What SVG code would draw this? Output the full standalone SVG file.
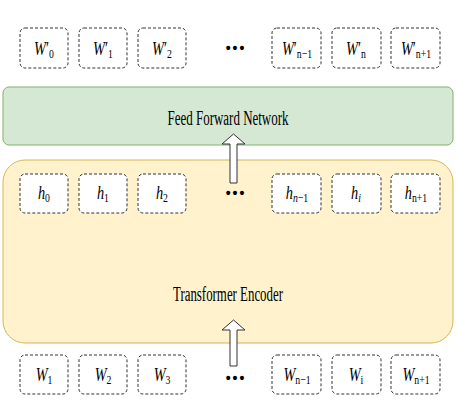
<svg xmlns="http://www.w3.org/2000/svg" width="457" height="415" viewBox="0 0 457 415">
<style>
.tok{fill:#ffffff;stroke:#333333;stroke-width:1;stroke-dasharray:3 2}
.lbl{font-family:"Liberation Serif",serif;font-size:19px;fill:#000;text-anchor:middle}
.sub{font-size:13px}
.big{font-family:"Liberation Serif",serif;font-size:20px;fill:#000;text-anchor:middle}
.dots{font-family:"Liberation Sans",sans-serif;font-size:14px;fill:#000;text-anchor:middle;font-weight:bold;letter-spacing:2px}
.arr{fill:#ffffff;stroke:#333333;stroke-width:1}
</style>
<rect width="457" height="415" fill="#ffffff"/>
<g id="transformer-encoder">
<rect x="3" y="160" width="450" height="183" rx="22" fill="#fff2cc" stroke="#d6b656"/>
<text class="big" x="228" y="301" textLength="110" lengthAdjust="spacingAndGlyphs">Transformer Encoder</text>
</g>
<g id="feed-forward">
<rect x="3" y="87" width="450" height="58" rx="6" fill="#d5e8d4" stroke="#82b366"/>
<text class="big" x="228" y="125" textLength="121" lengthAdjust="spacingAndGlyphs">Feed Forward Network</text>
</g>
<g id="out-row">
<g id="out0"><rect class="tok" x="20" y="28" width="48" height="40" rx="5"/><text class="lbl" transform="translate(44,55) scale(0.75,1)"><tspan font-style="italic">W</tspan>′<tspan class="sub" dy="3">0</tspan></text></g>
<g id="out1"><rect class="tok" x="79" y="28" width="48" height="40" rx="5"/><text class="lbl" transform="translate(103,55) scale(0.75,1)"><tspan font-style="italic">W</tspan>′<tspan class="sub" dy="3">1</tspan></text></g>
<g id="out2"><rect class="tok" x="138" y="28" width="48" height="40" rx="5"/><text class="lbl" transform="translate(162,55) scale(0.75,1)"><tspan font-style="italic">W</tspan>′<tspan class="sub" dy="3">2</tspan></text></g>
<text class="dots" x="236" y="53">•••</text>
<g id="out-n-1"><rect class="tok" x="272" y="28" width="49" height="40" rx="5"/><text class="lbl" transform="translate(297,55) scale(0.75,1)"><tspan font-style="italic">W</tspan>′<tspan class="sub" dy="3">n−1</tspan></text></g>
<g id="out-n"><rect class="tok" x="332" y="28" width="49" height="40" rx="5"/><text class="lbl" transform="translate(356,55) scale(0.75,1)"><tspan font-style="italic">W</tspan>′<tspan class="sub" dy="3">n</tspan></text></g>
<g id="out-n+1"><rect class="tok" x="391" y="28" width="49" height="40" rx="5"/><text class="lbl" transform="translate(416,55) scale(0.75,1)"><tspan font-style="italic">W</tspan>′<tspan class="sub" dy="3">n+1</tspan></text></g>
</g>
<g id="h-row">
<g id="h0"><rect class="tok" x="20" y="174" width="48" height="39" rx="5"/><text class="lbl" transform="translate(44,199) scale(0.75,1)"><tspan font-style="italic">h</tspan><tspan class="sub" dy="3">0</tspan></text></g>
<g id="h1"><rect class="tok" x="79" y="174" width="48" height="39" rx="5"/><text class="lbl" transform="translate(103,199) scale(0.75,1)"><tspan font-style="italic">h</tspan><tspan class="sub" dy="3">1</tspan></text></g>
<g id="h2"><rect class="tok" x="138" y="174" width="48" height="39" rx="5"/><text class="lbl" transform="translate(162,199) scale(0.75,1)"><tspan font-style="italic">h</tspan><tspan class="sub" dy="3">2</tspan></text></g>
<text class="dots" x="236" y="198">•••</text>
<g id="h-n-1"><rect class="tok" x="272" y="174" width="49" height="39" rx="5"/><text class="lbl" transform="translate(297,199) scale(0.75,1)"><tspan font-style="italic">h</tspan><tspan class="sub" dy="3"><tspan font-style="italic">n</tspan>−1</tspan></text></g>
<g id="h-i"><rect class="tok" x="332" y="174" width="49" height="39" rx="5"/><text class="lbl" transform="translate(356,199) scale(0.75,1)"><tspan font-style="italic">h</tspan><tspan class="sub" dy="3" font-style="italic">i</tspan></text></g>
<g id="h-n+1"><rect class="tok" x="391" y="174" width="49" height="39" rx="5"/><text class="lbl" transform="translate(416,199) scale(0.75,1)"><tspan font-style="italic">h</tspan><tspan class="sub" dy="3">n+1</tspan></text></g>
</g>
<g id="in-row">
<g id="in1"><rect class="tok" x="20" y="355" width="48" height="39" rx="5"/><text class="lbl" transform="translate(44,381) scale(0.75,1)"><tspan font-style="italic">W</tspan><tspan class="sub" dy="3">1</tspan></text></g>
<g id="in2"><rect class="tok" x="79" y="355" width="48" height="39" rx="5"/><text class="lbl" transform="translate(103,381) scale(0.75,1)"><tspan font-style="italic">W</tspan><tspan class="sub" dy="3">2</tspan></text></g>
<g id="in3"><rect class="tok" x="138" y="355" width="48" height="39" rx="5"/><text class="lbl" transform="translate(162,381) scale(0.75,1)"><tspan font-style="italic">W</tspan><tspan class="sub" dy="3">3</tspan></text></g>
<text class="dots" x="236" y="383">•••</text>
<g id="in-n-1"><rect class="tok" x="272" y="355" width="49" height="39" rx="5"/><text class="lbl" transform="translate(297,381) scale(0.75,1)"><tspan font-style="italic">W</tspan><tspan class="sub" dy="3">n−1</tspan></text></g>
<g id="in-i"><rect class="tok" x="332" y="355" width="49" height="39" rx="5"/><text class="lbl" transform="translate(356,381) scale(0.75,1)"><tspan font-style="italic">W</tspan><tspan class="sub" dy="3">i</tspan></text></g>
<g id="in-n+1"><rect class="tok" x="391" y="355" width="49" height="39" rx="5"/><text class="lbl" transform="translate(416,381) scale(0.75,1)"><tspan font-style="italic">W</tspan><tspan class="sub" dy="3">n+1</tspan></text></g>
</g>
<g id="connectors">
<path class="arr" d="M230,183 L230,144 L222,144 L233.5,134 L245,144 L237,144 L237,183 Z"/>
<path class="arr" d="M230,366 L230,330 L222,330 L233.5,320 L245,330 L237,330 L237,366 Z"/>
</g>
</svg>
